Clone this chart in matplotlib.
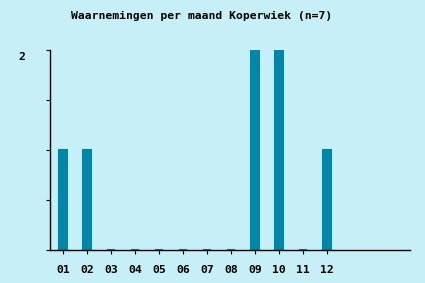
import matplotlib
matplotlib.use("Agg")
import matplotlib.pyplot as plt
import matplotlib.transforms as mtrans

# waarnemingen per maand
months = ['01', '02', '03', '04', '05', '06', '07', '08', '09', '10', '11', '12']
counts = [1, 1, 0, 0, 0, 0, 0, 0, 2, 2, 0, 1]
title = 'Waarnemingen per maand Koperwiek (n=7)'

bg = '#c6eff8'
bar_col = '#0086a8'
font = {'family': 'DejaVu Sans Mono', 'weight': 'bold', 'size': 8.2}

fig = plt.figure(figsize=(4.25, 2.83), dpi=100, facecolor=bg)
ax = fig.add_axes([50/425, 33/283, 360/425, 200/283], facecolor=bg)

pos = list(range(1, len(months) + 1))
# zero months still show a thin stub, so give the bars an edge
ax.bar(pos, counts, width=7.5/24, color=bar_col, edgecolor=bar_col,
       linewidth=1.5, zorder=2)

ax.set_xlim(1 - 13/24, 1 + 347/24)
ax.set_ylim(0, 2)
ax.set_xticks(pos)
ax.set_xticklabels(months, fontdict=font)
ax.set_yticks([0, 0.5, 1, 1.5, 2])
ax.set_yticklabels([])
ax.tick_params(axis='x', direction='out', length=3, width=0.8, pad=8)
ax.tick_params(axis='y', direction='out', length=3, width=0.8)

for s in ['top', 'right']:
    ax.spines[s].set_visible(False)
for s in ['left', 'bottom']:
    ax.spines[s].set_linewidth(1.0)
    ax.spines[s].set_zorder(3)

# only the top value is labelled, a bit below the tick
tr = mtrans.blended_transform_factory(fig.transFigure, ax.transData)
ax.text(22/425, 1.975, '2', transform=tr, ha='center', va='top',
        fontdict=font, clip_on=False)

fig.text(202/425, 1 - 16/283, title, ha='center', va='center', fontdict=font)

fig.savefig('out.png', dpi=100, facecolor=bg)
